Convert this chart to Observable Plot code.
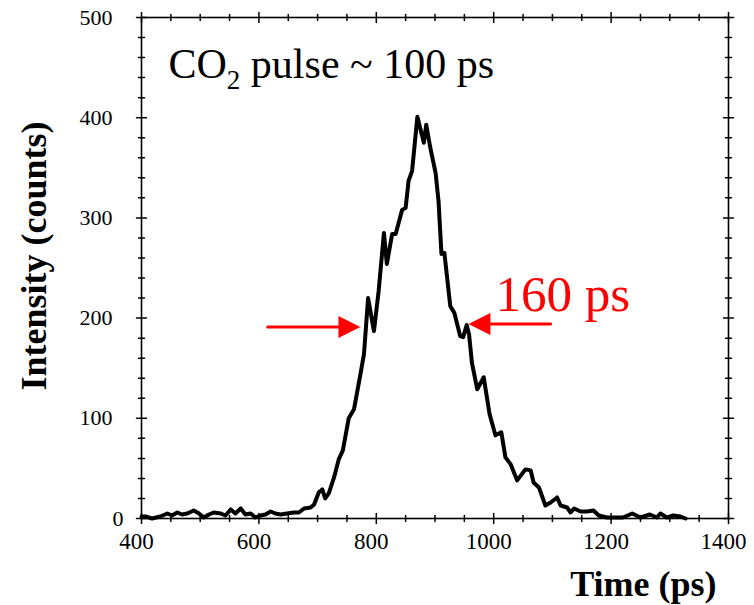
<!DOCTYPE html>
<html><head><meta charset="utf-8">
<script src="https://cdn.jsdelivr.net/npm/d3@7"></script>
<script src="https://cdn.jsdelivr.net/npm/@observablehq/plot@0.6"></script>
<style>body{margin:0;background:#fff}</style>
</head><body><div id="chart"></div>
<script>
// Data
const times = [400,407,418,432,444,452,461,469,478,489,498,506,515,523,535,543,552,560,569,577,586,594,603,611,620,628,637,648,660,668,677,688,694,702,708,713,719,728,736,743,753,762,773,779,786,796,804,813,818,827,833,844,850,855,861,870,881,885,892,901,906,911,916,926,933,943,948,954,958,963,972,983,993,1003,1013,1020,1029,1040,1054,1063,1068,1077,1088,1097,1108,1114,1125,1131,1137,1148,1159,1170,1179,1193,1205,1220,1236,1250,1266,1278,1284,1295,1306,1318,1327];
const counts = [2,2,0,2,5,3,6,4,5,8,5,1,4,6,5,3,9,5,10,4,5,1,3,4,7,5,4,5,6,6,10,11,14,26,29,20,25,41,59,68,100,109,144,164,220,187,227,285,254,284,284,308,310,337,347,401,375,393,370,345,317,264,265,212,205,182,181,193,184,155,129,141,104,83,86,61,54,38,49,48,36,31,13,16,21,13,11,6,10,7,7,8,3,1,1,1,5,1,4,1,5,1,3,2,0];

const xTickLabels = [400,600,800,1000,1200,1400];
const xMinorTicks = [450,500,550,650,700,750,850,900,950,1050,1100,1150,1250,1300,1350];
const yTickLabels = [0,100,200,300,400,500];
const yMinorTicks = [20,40,60,80,120,140,160,180,220,240,260,280,320,340,360,380,420,440,460,480];

const titleText = "CO2 pulse ~ 100 ps";
const fwhmText = "160 ps";
const fwhmArrows = [{x1: 615, x2: 773, y: 191}, {x1: 1097, x2: 957, y: 194}];
const fwhmHeadRotate = [90, 270];

const series = times.map((t, i) => ({time: t, intensity: counts[i]}));

const tickShape = {draw(ctx, l) { ctx.moveTo(0, 0); ctx.lineTo(0, -l); }};
const headShape = {draw(ctx, l) { ctx.moveTo(0, -l); ctx.lineTo(-l * 0.5, 0); ctx.lineTo(l * 0.5, 0); ctx.closePath(); }};

function tickMarks(values, len) {
  const o = {shape: tickShape, length: len, stroke: "black", strokeWidth: 1.5};
  return [
    Plot.vector(values.x, {...o, x: d => d, y: 0, rotate: 0}),
    Plot.vector(values.x, {...o, x: d => d, y: 500, rotate: 180}),
    Plot.vector(values.y, {...o, x: 400, y: d => d, rotate: 90}),
    Plot.vector(values.y, {...o, x: 1400, y: d => d, rotate: 270})
  ];
}

const serif = "Liberation Serif";

const chart = Plot.plot({
  width: 754,
  height: 605,
  marginLeft: 141,
  marginRight: 26,
  marginTop: 17,
  marginBottom: 87,
  style: {fontFamily: serif, fontSize: "22px", background: "white", color: "black"},
  x: {domain: [400, 1400]},
  y: {domain: [0, 500]},
  marks: [
    Plot.axisX({ticks: xTickLabels, tickSize: 0, tickPadding: 14, dx: -5, label: null, fontSize: 23, tickFormat: d => String(d)}),
    Plot.axisY({ticks: yTickLabels.filter(d => d > 0), tickSize: 0, tickPadding: 29, label: null, fontSize: 22, tickFormat: d => String(d)}),
    Plot.axisY({ticks: yTickLabels.filter(d => d === 0), tickSize: 0, tickPadding: 18, label: null, fontSize: 22, tickFormat: d => String(d)}),
    ...tickMarks({x: xTickLabels, y: yTickLabels}, 10),
    ...tickMarks({x: xMinorTicks, y: yMinorTicks}, 6),
    Plot.frame({stroke: "black", strokeWidth: 1.6}),
    Plot.line(series, {x: "time", y: "intensity", stroke: "black", strokeWidth: 4, strokeLinejoin: "round"}),
    Plot.arrow(fwhmArrows, {x1: "x1", x2: "x2", y1: "y", y2: "y", stroke: "#ff0000", strokeWidth: 3, headLength: 0, insetEnd: 18}),
    Plot.vector(fwhmArrows, {x: "x2", y: "y", rotate: (d, i) => fwhmHeadRotate[i], length: 22, anchor: "end", shape: headShape, fill: "#ff0000", stroke: "none"}),
    Plot.text([titleText], {x: 446, y: 440, text: d => d, textAnchor: "start", lineAnchor: "bottom", fontSize: 42, fill: "black"}),
    Plot.text([fwhmText], {x: 1003, y: 207, text: d => d, textAnchor: "start", lineAnchor: "bottom", fontSize: 51, fill: "#ff0000"}),
    Plot.text(["Time (ps)"], {frameAnchor: "bottom-right", dx: -12, dy: 77, text: d => d, textAnchor: "end", lineAnchor: "bottom", fontSize: 36, fontWeight: "bold"}),
    Plot.text(["Intensity (counts)"], {frameAnchor: "left", dx: -96, dy: -12, rotate: -90, text: d => d, textAnchor: "middle", lineAnchor: "bottom", fontSize: 36, fontWeight: "bold"})
  ]
});

// Subscript for CO2
d3.select(chart).selectAll("text").filter(function() { return this.textContent === titleText; }).each(function() {
  const t = d3.select(this);
  t.text(null);
  t.append("tspan").text("CO");
  t.append("tspan").attr("font-size", 27).attr("dy", 11).text("2");
  t.append("tspan").attr("dy", -11).text(" pulse ~ 100 ps");
});

document.getElementById("chart").appendChild(chart);
</script>
</body></html>
